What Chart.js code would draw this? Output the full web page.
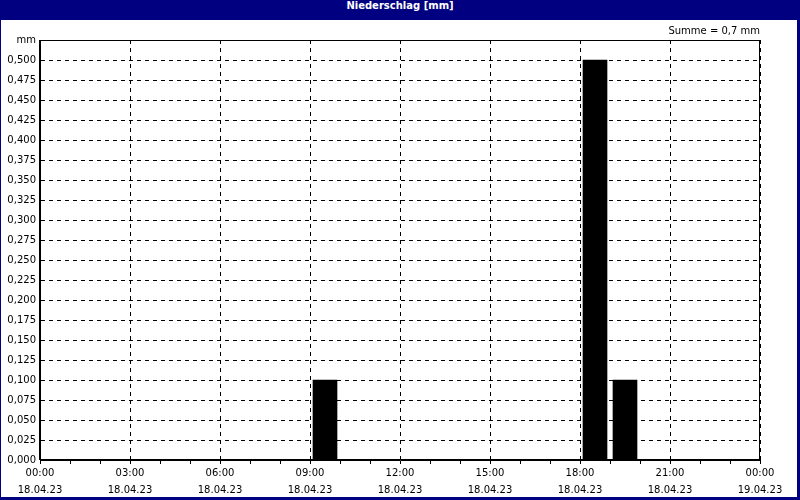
<!DOCTYPE html>
<html>
<head>
<meta charset="utf-8">
<script src="https://cdn.jsdelivr.net/npm/chart.js@4/dist/chart.umd.min.js"></script>
<style>
  html, body { margin: 0; padding: 0; }
  body { width: 800px; height: 500px; background: #000080; position: relative; overflow: hidden; }
  #head { position: absolute; left: 0; top: 0; width: 800px; height: 20px; line-height: 20px;
          text-align: center; color: #fff; font: bold 10px "DejaVu Sans", sans-serif; }
  #box { position: absolute; left: 1px; top: 20px; width: 796px; height: 477px; background: #fff; }
</style>
</head>
<body>
<div id="head">Niederschlag [mm]</div>
<div id="box"><canvas id="c"></canvas></div>
<script>
// hourly precipitation, 18.04.23 00:00 .. 19.04.23 00:00
const hours = [0,1,2,3,4,5,6,7,8,9,10,11,12,13,14,15,16,17,18,19,20,21,22,23];
const rain  = [0,0,0,0,0,0,0,0,0,0.1,0,0,0,0,0,0,0,0,0.5,0.1,0,0,0,0];
const timeLabels = ['00:00','03:00','06:00','09:00','12:00','15:00','18:00','21:00','00:00'];
const dateLabels = ['18.04.23','18.04.23','18.04.23','18.04.23','18.04.23','18.04.23','18.04.23','18.04.23','19.04.23'];
const sumText = 'Summe = 0,7 mm';

const font = { family: '"DejaVu Sans", sans-serif', size: 10 };

// solid frame around the plot area
const frame = {
  id: 'frame',
  afterDraw(chart) {
    const a = chart.chartArea, ctx = chart.ctx;
    ctx.save();
    ctx.strokeStyle = '#000';
    ctx.lineWidth = 1;
    ctx.strokeRect(Math.round(a.left) - 0.5, Math.round(a.top) + 0.5,
                   Math.round(a.right - a.left), Math.round(a.bottom - a.top) - 1);
    ctx.restore();
  }
};

new Chart(document.getElementById('c'), {
  type: 'bar',
  data: {
    datasets: [{
      data: hours.map((h, i) => ({ x: h + 0.5, y: rain[i] })),
      backgroundColor: '#000',
      borderWidth: 0,
      barThickness: 24
    }]
  },
  options: {
    responsive: true,
    maintainAspectRatio: false,
    animation: false,
    layout: { padding: { right: 37, left: 0, top: 0, bottom: 0 } },
    plugins: {
      legend: { display: false },
      tooltip: { enabled: false },
      title: {
        display: true,
        text: sumText,
        align: 'end',
        color: '#000',
        font: { family: font.family, size: 10, weight: 'normal', lineHeight: 1.2 },
        padding: { top: 5, bottom: 3 }
      }
    },
    scales: {
      x: {
        type: 'linear',
        min: 0,
        max: 24,
        offset: false,
        afterFit: s => { s.height = 37; },
        ticks: {
          stepSize: 1,
          autoSkip: false,
          maxRotation: 0,
          padding: 1,
          color: '#000',
          font: { family: font.family, size: 10, lineHeight: '17px' },
          callback: v => v % 3 === 0 ? [timeLabels[v / 3], dateLabels[v / 3]] : ''
        },
        grid: {
          offset: false,
          color: c => (c.tick && c.tick.value % 3 === 0) ? '#000' : 'rgba(0,0,0,0)',
          tickColor: '#000',
          tickLength: 4,
          lineWidth: 1
        },
        border: { display: true, color: '#000', dash: [4, 4] }
      },
      y: {
        min: 0,
        max: 0.525,
        afterFit: s => { s.width = 39; },
        ticks: {
          stepSize: 0.025,
          padding: 4,
          color: '#000',
          font: font,
          callback: v => v > 0.51 ? 'mm' : v.toFixed(3).replace('.', ',')
        },
        grid: {
          color: c => (c.tick && c.tick.value > 0.51) ? 'rgba(0,0,0,0)' : '#000',
          drawTicks: false,
          lineWidth: 1
        },
        border: { display: true, color: '#000', dash: [4, 4] }
      }
    }
  },
  plugins: [frame]
});
</script>
</body>
</html>
